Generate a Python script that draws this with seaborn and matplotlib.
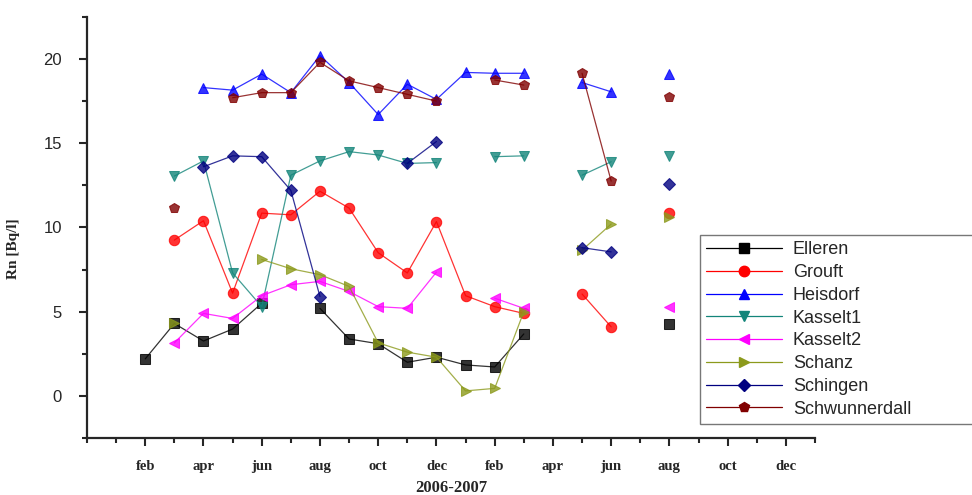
import numpy as np
import pandas as pd
import seaborn as sns
import matplotlib.pyplot as plt
from matplotlib.lines import Line2D
from matplotlib.ticker import MultipleLocator

nan = np.nan

# month index: 1 = jan 2006, 13 = jan 2007
months = list(range(2, 21))

elleren       = [2.2, 4.3, 3.26, 3.97, 5.5, nan, 5.2, 3.38, 3.1, 2.0, 2.3, 1.84, 1.72, 3.68, nan, nan, nan, nan, 4.27]
grouft        = [nan, 9.25, 10.4, 6.1, 10.85, 10.75, 12.15, 11.15, 8.5, 7.3, 10.35, 5.95, 5.3, 4.9, nan, 6.05, 4.1, nan, 10.85]
heisdorf      = [nan, nan, 18.3, 18.15, 19.1, 18.0, 20.2, 18.6, 16.7, 18.5, 17.6, 19.2, 19.15, 19.15, nan, 18.6, 18.05, nan, 19.1]
kasselt1      = [nan, 13.05, 13.95, 7.3, 5.3, 13.1, 13.95, 14.5, 14.3, 13.8, 13.85, nan, 14.2, 14.25, nan, 13.1, 13.9, nan, 14.25]
kasselt2      = [nan, 3.15, 4.9, 4.6, 5.95, 6.6, 6.8, 6.2, 5.3, 5.2, 7.35, nan, 5.8, 5.2, nan, nan, nan, nan, 5.3]
schanz        = [nan, 4.35, nan, nan, 8.1, 7.55, 7.2, 6.5, 3.15, 2.6, 2.3, 0.3, 0.45, 5.0, nan, 8.65, 10.2, nan, 10.6]
schingen      = [nan, nan, 13.6, 14.25, 14.2, 12.2, 5.9, nan, nan, 13.8, 15.1, nan, nan, nan, nan, 8.8, 8.55, nan, 12.6]
schwunnerdall = [nan, 11.15, nan, 17.7, 18.0, 18.0, 19.8, 18.7, 18.3, 17.9, 17.5, nan, 18.75, 18.45, nan, 19.15, 12.75, nan, 17.75]

sites = ["Elleren", "Grouft", "Heisdorf", "Kasselt1", "Kasselt2", "Schanz", "Schingen", "Schwunnerdall"]
values = [elleren, grouft, heisdorf, kasselt1, kasselt2, schanz, schingen, schwunnerdall]
colors = ["#000000", "#ff0000", "#0000ff", "#13857a", "#ff00ff", "#8c9a1c", "#000080", "#800000"]
markers = ["s", "o", "^", "v", "<", ">", "D", "p"]

tick_pos = list(range(2, 25, 2))
tick_lab = ["feb", "apr", "jun", "aug", "oct", "dec"] * 2

sns.set_style("ticks")

fig = plt.figure(figsize=(9.72, 4.95), dpi=100)
ax = fig.add_axes([0.0895, 0.115, 0.749, 0.851])

handles = []
for name, vals, c, m in zip(sites, values, colors, markers):
    df = pd.DataFrame({"month": months, "Rn": vals})
    # break the line where a month is missing
    df["seg"] = df["Rn"].isna().cumsum()
    df = df.dropna()
    ms = 6.5 if m in ("D", "s") else 7.5
    sns.lineplot(data=df, x="month", y="Rn", units="seg", estimator=None,
                 color=c, marker=m, markersize=ms, markeredgecolor=c,
                 linewidth=0.9, alpha=0.8, ax=ax, legend=False)
    handles.append(Line2D([], [], color=c, marker=m, markersize=ms,
                          markeredgecolor=c, linewidth=0.9, label=name))

ax.set_xlim(0, 25)
ax.set_ylim(-2.5, 22.5)
ax.set_xticks(tick_pos)
ax.set_xticklabels(tick_lab, family="Liberation Serif", fontweight="bold", fontsize=10.5)
ax.xaxis.set_minor_locator(MultipleLocator(1))
ax.yaxis.set_major_locator(MultipleLocator(5))
ax.yaxis.set_minor_locator(MultipleLocator(2.5))
for lab in ax.get_yticklabels():
    lab.set_family("Liberation Sans")
    lab.set_fontsize(12)

ax.tick_params(which="major", length=6, width=1.5, direction="out", pad=10)
ax.tick_params(which="minor", length=3.5, width=1.5, direction="out")
ax.tick_params(axis="y", which="major", pad=12)
for s in ["top", "right"]:
    ax.spines[s].set_visible(False)
for s in ["left", "bottom"]:
    ax.spines[s].set_linewidth(1.6)

ax.set_ylabel("Rn [Bq/l]", family="Liberation Serif", fontweight="bold", fontsize=11)
ax.yaxis.set_label_coords(-0.092, 0.45)
ax.set_xlabel("2006-2007", family="Liberation Serif", fontweight="bold", fontsize=12)
ax.xaxis.set_label_coords(0.5, -0.1)

leg = ax.legend(handles=handles, loc="upper left", bbox_to_anchor=(0.842, 0.014, 0.4, 0.468),
                mode="expand", prop={"family": "Liberation Sans", "size": 13},
                handlelength=4.2, handletextpad=0.6, labelspacing=0.32,
                frameon=True, fancybox=False, borderaxespad=0, borderpad=0.35)
leg.get_frame().set_edgecolor("#555555")
leg.get_frame().set_linewidth(1.0)

fig.savefig("out.png", dpi=100)
